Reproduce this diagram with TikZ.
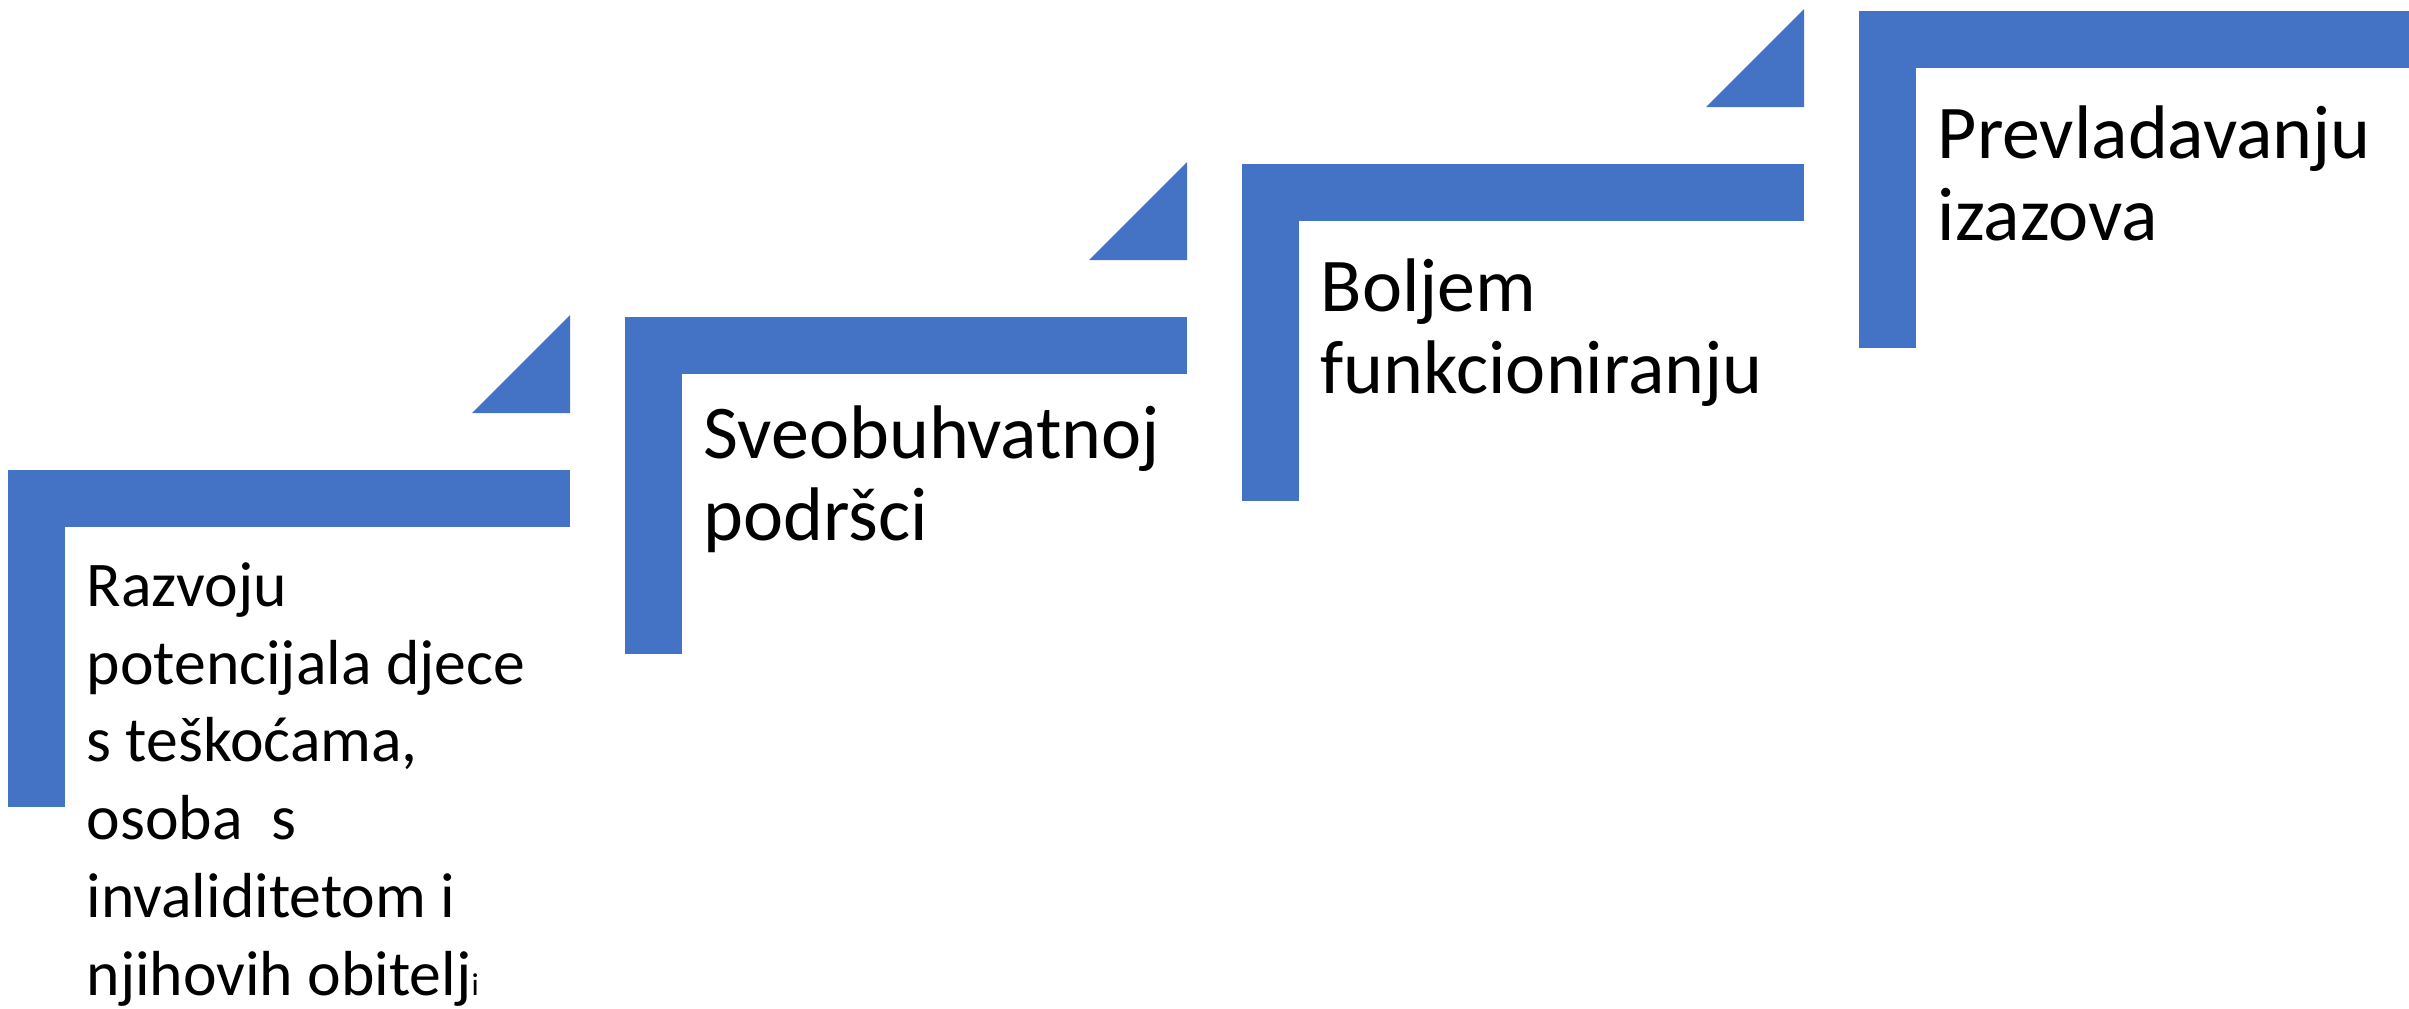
\documentclass[tikz,border=0pt]{standalone}
\usepackage{fontspec}
\setmainfont{Carlito}
\definecolor{stepblue}{HTML}{4472C4}
\tikzset{
  stepbar/.style={fill=stepblue},
  steplabel/.style={anchor=base west, inner sep=0pt, align=left, text=black},
  biglabel/.style={steplabel, font=\fontsize{21.6}{23.3}\selectfont},
  smalllabel/.style={steplabel, font=\fontsize{18.1}{22.1}\selectfont}
}
\begin{document}
\begin{tikzpicture}[x=0.01cm, y=-0.01cm]
    \useasboundingbox (0,0) rectangle (2409,1008);
    \clip (0,0) rectangle (2409,1008);

    % Stairs: bar, riser and arrow corner of every step
    \foreach \i in {0,...,3} {
        \begin{scope}[shift={(8+617*\i, 470-153*\i)}]
            \fill[stepbar] (0,0) rectangle (562,57);
            \fill[stepbar] (0,0) rectangle (57,337);
            \ifnum\i<3
                \fill[stepbar] (562,-155) -- (562,-57) -- (464,-57) -- cycle;
            \fi
        \end{scope}
    }

    % Labels (anchored on the baseline of their last line)
    \node[smalllabel] (razvoj) at (86,995) {Razvoju\\potencijala djece\\s teškoćama,\\osoba\ \ s\\invaliditetom i\\njihovih obitelj{\fontsize{9}{9}\selectfont i}};
    \node[biglabel] (podrska) at (703,540) {Sveobuhvatnoj\\podršci};
    \node[biglabel] (funkcija) at (1320,393) {Boljem\\funkcioniranju};
    \node[biglabel] (izazovi) at (1937,240) {Prevladavanju\\izazova};
\end{tikzpicture}
\end{document}
